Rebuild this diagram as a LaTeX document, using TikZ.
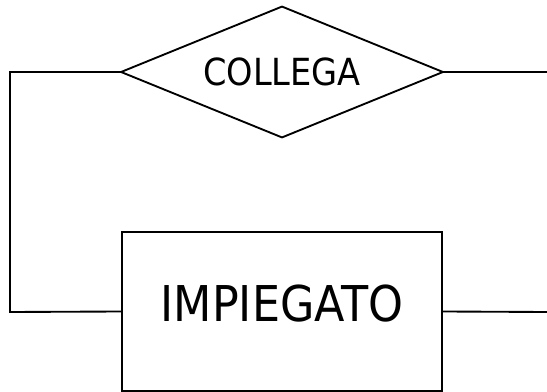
\documentclass[tikz,border=0pt]{standalone}
\usepackage{fontspec}
\setmainfont{DejaVu Sans Condensed}

\tikzset{every picture/.style={line width=1.4pt}}
\tikzset{relazione/.style={rectangle, inner sep=0pt, minimum width=240pt, minimum height=96.75pt, font=\fontsize{28}{30}\selectfont}}
\tikzset{entita/.style={draw, rectangle, inner sep=0pt, minimum width=240pt, minimum height=119.25pt, text depth=12pt, font=\fontsize{37}{40}\selectfont}}

\begin{document}
\begin{tikzpicture}[x=0.75pt,y=0.75pt,yscale=-1,xscale=1]
    \useasboundingbox (0,0) rectangle (547,392);
    % Diamond
    \node [relazione] (collega) at (282,72) {COLLEGA};
    \draw    (collega.north) -- (collega.east) -- (collega.south) -- (collega.west) -- cycle ;
    % Rectangle
    \node [entita] (impiegato) at (282,311.5) {IMPIEGATO};
    % Corners and free ends
    \coordinate (angoloalto) at (10,72);
    \coordinate (angolobasso) at (10,312);
    \coordinate (finealto) at (547,72);
    \coordinate (finebasso) at (547,312);
    % Straight Lines
    \draw    (collega.west) -- (angoloalto) -- (angolobasso) -- (impiegato.west) ;
    % Straight Lines
    \draw    (collega.east) -- (finealto) ;
    % Straight Lines
    \draw    (impiegato.east) -- (finebasso) ;
\end{tikzpicture}
\end{document}
